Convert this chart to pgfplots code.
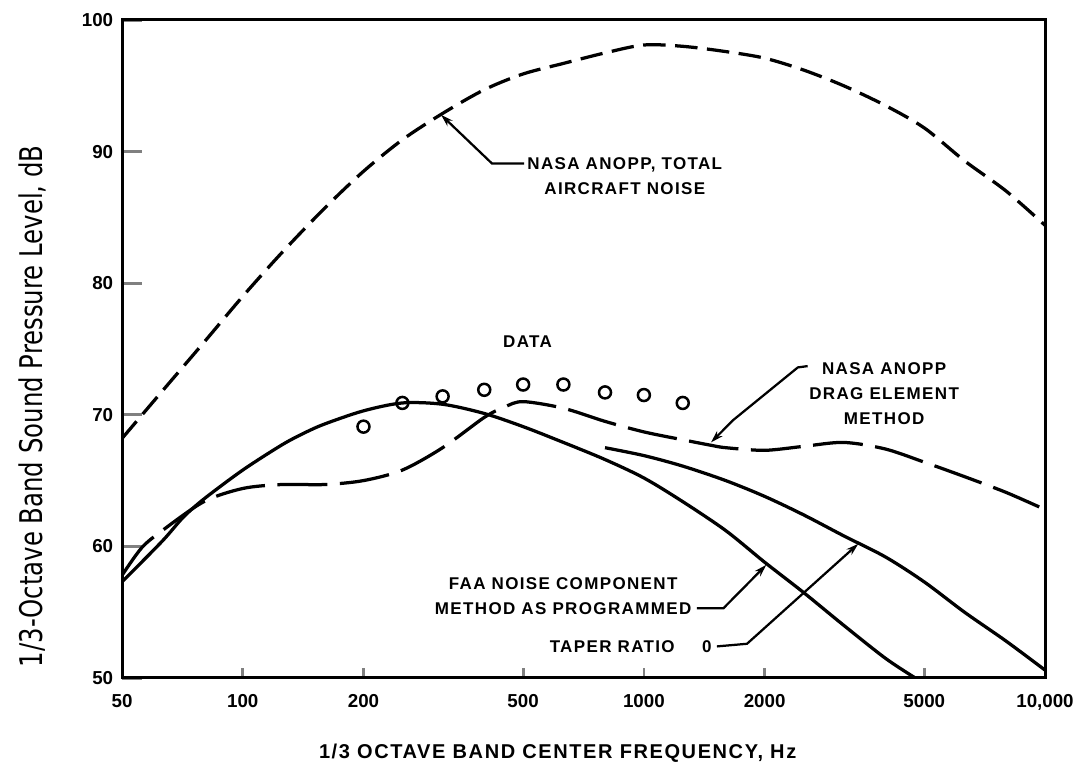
\documentclass[border=0pt]{standalone}
\usepackage{fontspec}
\setmainfont{Liberation Sans}
\newfontfamily\condfont[FakeStretch=0.78]{DejaVu Sans}
\newfontfamily\lblfont[LetterSpace=8]{Liberation Sans}
\usepackage{pgfplots}
\pgfplotsset{compat=1.18}
\usetikzlibrary{arrows.meta}

\newcommand{\annot}{\fontsize{6.8}{10}\selectfont\lblfont\bfseries}
\tikzset{
    annot/.style={font=\annot, inner sep=0pt},
    lead/.style={line width=0.9pt, -{Stealth[length=5pt,width=3pt]}},
}

\begin{document}
\begin{tikzpicture}
\begin{axis}[
    xmode=log,
    scale only axis,
    width=369.2pt, height=263.2pt,
    xmin=50, xmax=10000, ymin=50, ymax=100,
    xtick={50,100,200,500,1000,2000,5000,10000},
    xticklabels={50,100,200,500,1000,2000,5000,{10,000}},
    ytick={50,60,70,80,90,100},
    yticklabels={50,60,70,80,90,100},
    xminorticks=false, yminorticks=false,
    tick align=inside, tick pos=left,
    axis line style={line width=1.2pt},
    xtick style={line width=1.1pt, /pgfplots/major tick length=4pt},
    ytick style={line width=1.3pt, /pgfplots/major tick length=8pt},
    ticklabel style={font=\fontsize{7.5}{8}\selectfont\bfseries},
    xticklabel style={yshift=-3pt},
    xlabel={1/3 OCTAVE BAND CENTER FREQUENCY, Hz},
    xlabel style={font=\fontsize{8}{9}\selectfont\lblfont\bfseries,
        at={(axis description cs:0.472,-0.115)}, anchor=center},
    ylabel={1/3-Octave Band Sound Pressure Level, dB},
    ylabel style={font=\fontsize{12.5}{13}\selectfont\condfont,
        at={(axis description cs:-0.097,0.413)}, anchor=center},
]
% NASA ANOPP, total aircraft noise
\addplot[black, line width=1.3pt, dash pattern=on 9pt off 3.8pt, smooth] coordinates {
    (50,68.2) (63,71.8) (80,75.5) (100,79.0) (125,82.3) (160,85.7)
    (200,88.5) (250,90.9) (315,92.9) (400,94.7) (500,95.9) (630,96.7)
    (800,97.5) (1000,98.1) (1250,98.0) (1600,97.6) (2000,97.1)
    (2500,96.2) (3150,95.0) (4000,93.5) (5000,91.8) (6300,89.3)
    (8000,87.0) (10000,84.4)
};
% NASA ANOPP, drag element method
\addplot[black, line width=1.3pt, dash pattern=on 20pt off 5pt, smooth] coordinates {
    (50,57.8) (56,59.9) (63,61.2) (80,63.4) (100,64.4) (125,64.7)
    (160,64.7) (200,65.0) (250,65.8) (315,67.5) (400,69.8) (450,70.6)
    (500,71.0) (630,70.5) (800,69.5) (1000,68.7) (1250,68.1) (1460,67.7)
    (1600,67.5) (2000,67.3) (2500,67.6) (3150,67.9) (4000,67.4)
    (5000,66.4) (6300,65.3) (8000,64.1) (10000,62.8)
};
% FAA noise component method as programmed
\addplot[black, line width=1.3pt, smooth] coordinates {
    (50,57.3) (63,60.4) (71,62.2) (80,63.6) (100,65.8) (125,67.7)
    (142,68.6) (160,69.3) (200,70.3) (250,70.9) (315,70.8) (400,70.1)
    (500,69.1) (630,67.9) (800,66.6) (1000,65.2) (1250,63.4) (1600,61.2)
    (2000,58.8) (2500,56.5) (3150,54.0) (4000,51.5) (4750,50.0)
};
% taper ratio 0
\addplot[black, line width=1.3pt, smooth] coordinates {
    (800,67.5) (1000,66.9) (1250,66.1) (1600,65.0) (2000,63.8)
    (2500,62.4) (3150,60.8) (4000,59.2) (5000,57.3) (6300,55.0)
    (8000,52.8) (10000,50.6)
};
% data
\addplot[only marks, mark=o, mark size=2.4pt, mark options={line width=1pt, black}] coordinates {
    (200,69.1) (250,70.9) (315,71.4) (400,71.9) (500,72.3)
    (630,72.3) (800,71.7) (1000,71.5) (1250,70.9)
};

% annotations
\node[annot, align=center, anchor=west] at (axis cs:511,88.15)
    {NASA ANOPP, TOTAL\\AIRCRAFT NOISE};
\draw[lead] (axis cs:503,89.1) -- (axis cs:418,89.1) -- (axis cs:312,92.8);

\node[annot] at (axis cs:513,75.55) {DATA};

\node[annot, align=center] at (axis cs:3972,71.63)
    {NASA ANOPP\\DRAG ELEMENT\\METHOD};
\draw[lead] (axis cs:2560,73.7) -- (axis cs:2420,73.6) -- (axis cs:1670,69.6) -- (axis cs:1470,67.9);

\node[annot, align=center, anchor=east] at (axis cs:1317,56.25)
    {FAA NOISE COMPONENT\\METHOD AS PROGRAMMED};
\draw[lead] (axis cs:1355,55.3) -- (axis cs:1579,55.3) -- (axis cs:2020,58.6);

\node[annot, anchor=east] at (axis cs:1197,52.4) {TAPER RATIO};
\node[annot] at (axis cs:1436,52.4) {0};
\draw[lead] (axis cs:1521,52.4) -- (axis cs:1808,52.6) -- (axis cs:3425,60.2);
\end{axis}
\pgfresetboundingbox
\path[use as bounding box]
    ([xshift=-48.8pt,yshift=-38.4pt]current axis.south west)
    rectangle ([xshift=13.2pt,yshift=8pt]current axis.north east);
\end{tikzpicture}
\end{document}
